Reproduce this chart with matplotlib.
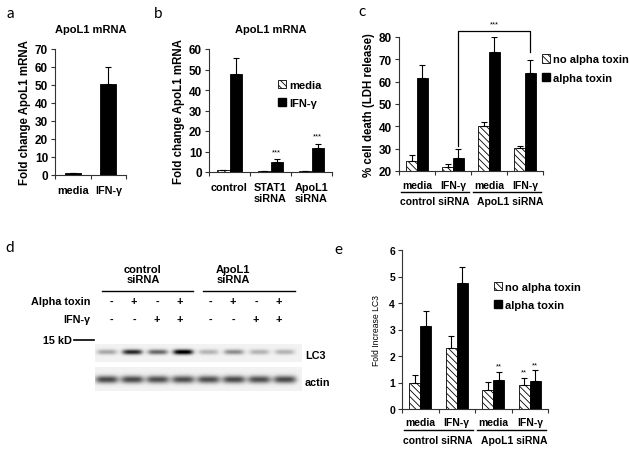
import numpy as np
import matplotlib
matplotlib.use('Agg')
import matplotlib.pyplot as plt
from matplotlib.patches import Patch

plt.rcParams['font.family'] = ['Liberation Sans', 'DejaVu Sans']
plt.rcParams['font.weight'] = 'bold'
plt.rcParams['axes.labelweight'] = 'bold'
plt.rcParams['hatch.linewidth'] = 0.6

# %% data
# a
a_groups = ['media', 'IFN-γ']
a_vals = [1.0, 50.3]
a_err = [0.3, 9.8]

# b
b_groups = ['control', 'STAT1\nsiRNA', 'ApoL1\nsiRNA']
b_media = [1.0, 0.5, 0.3]
b_media_err = [0.2, 0.15, 0.1]
b_ifn = [48.0, 5.0, 11.6]
b_ifn_err = [7.5, 1.3, 2.2]
b_stars = ['', '***', '***']

# c
c_groups = ['media', 'IFN-γ', 'media', 'IFN-γ']
c_sirna = ['control siRNA', 'ApoL1 siRNA']
c_no = [24.5, 22.0, 40.0, 30.5]
c_no_err = [2.5, 1.3, 2.0, 0.7]
c_tox = [61.5, 26.0, 73.5, 64.0]
c_tox_err = [6.0, 4.0, 6.3, 5.7]

# d
d_sirna = ['control\nsiRNA', 'ApoL1\nsiRNA']
d_tox = ['-', '+', '-', '+', '-', '+', '-', '+']
d_ifn = ['-', '-', '+', '+', '-', '-', '+', '+']
d_lc3 = [0.3, 0.8, 0.55, 1.0, 0.25, 0.4, 0.25, 0.25]
d_actin = [0.66, 0.66, 0.64, 0.64, 0.64, 0.66, 0.64, 0.66]

# e
e_groups = ['media', 'IFN-γ', 'media', 'IFN-γ']
e_no = [1.0, 2.3, 0.73, 0.9]
e_no_err = [0.3, 0.45, 0.3, 0.27]
e_tox = [3.15, 4.75, 1.1, 1.05]
e_tox_err = [0.55, 0.6, 0.3, 0.42]
e_no_stars = ['', '', '', '**']
e_tox_stars = ['', '', '**', '**']

HATCH = '\\\\\\\\\\'

fig = plt.figure(figsize=(6.29, 4.52), dpi=100)
ov = fig.add_axes([0, 0, 1, 1])
ov.set_xlim(0, 629)
ov.set_ylim(452, 0)
ov.axis('off')


def style(ax, n, ylo, yhi, step, ysize=8.5):
    ax.set_xlim(-0.5, n - 0.5)
    ax.set_ylim(ylo, yhi)
    ax.set_yticks(np.arange(ylo, yhi + 0.1, step))
    for s in ['top', 'right']:
        ax.spines[s].set_visible(False)
    for s in ['left', 'bottom']:
        ax.spines[s].set_linewidth(0.8)
        ax.spines[s].set_color('#333333')
    ax.set_xticks(np.arange(n + 1) - 0.5)
    ax.set_xticklabels([])
    ax.tick_params(axis='x', length=3, width=0.8, color='#333333')
    ax.tick_params(axis='y', length=3, width=0.8, labelsize=ysize, pad=2, color='#333333')
    ax.patch.set_alpha(0)


def errs(ax, x, v, e):
    ax.errorbar(x, v, yerr=[np.zeros(len(e)), e], fmt='none', ecolor='k',
                elinewidth=0.8, capsize=2.5, capthick=0.8)


def pair_bars(ax, a, ae, b, be, w=0.3):
    x = np.arange(len(a))
    ax.bar(x - w / 2, a, w, color='white', edgecolor='k', hatch=HATCH, linewidth=0.6)
    ax.bar(x + w / 2, b, w, color='black', edgecolor='k', linewidth=0.6)
    errs(ax, x - w / 2, a, ae)
    errs(ax, x + w / 2, b, be)
    return x, w


def legend(ax, labels, anchor):
    h = [Patch(facecolor='white', edgecolor='k', hatch=HATCH, linewidth=0.6),
         Patch(facecolor='black', edgecolor='k')]
    ax.legend(h, labels, loc='upper left', bbox_to_anchor=anchor, frameon=False,
              handlelength=0.75, handleheight=0.75, handletextpad=0.25,
              labelspacing=0.75, fontsize=8, borderaxespad=0, borderpad=0)


# %% a
ax = fig.add_axes([55 / 629, 1 - 176 / 452, 71 / 629, 126 / 452])
style(ax, 2, 0, 70, 10)
ax.bar(np.arange(2), a_vals, 0.45, color='black', edgecolor='k', linewidth=0.6)
errs(ax, np.arange(2), a_vals, a_err)
for i, g in enumerate(a_groups):
    ax.text(i, -0.12, g, transform=ax.get_xaxis_transform(), ha='center', va='center', fontsize=7.8)
ax.set_ylabel('Fold change ApoL1 mRNA', fontsize=8.3, labelpad=3)
ax.set_title('ApoL1 mRNA', fontsize=8, pad=12, fontweight='bold')

# %% b
ax = fig.add_axes([209 / 629, 1 - 173 / 452, 123 / 629, 123 / 452])
style(ax, 3, 0, 60, 10)
x, w = pair_bars(ax, b_media, b_media_err, b_ifn, b_ifn_err, w=0.31)
for i, s in enumerate(b_stars):
    if s:
        ax.text(x[i] + w / 2, b_ifn[i] + b_ifn_err[i] + 2, s, ha='center', va='bottom',
                fontsize=5.5, fontweight='normal')
for i, g in enumerate(b_groups):
    ax.text(i, -0.08, g, transform=ax.get_xaxis_transform(), ha='center', va='top',
            fontsize=7.8, linespacing=1.1)
ax.set_ylabel('Fold change ApoL1 mRNA', fontsize=8.3, labelpad=3)
ax.set_title('ApoL1 mRNA', fontsize=8, pad=12, fontweight='bold')
legend(ax, ['media', 'IFN-γ'], (0.56, 0.75))

# %% c
ax = fig.add_axes([399 / 629, 1 - 172 / 452, 144 / 629, 134 / 452])
style(ax, 4, 20, 80, 10)
x, w = pair_bars(ax, c_no, c_no_err, c_tox, c_tox_err)
top = 82.7
l0 = c_tox[1] + c_tox_err[1] + 1.2
r0 = c_tox[3] + c_tox_err[3] + 3.5
ax.plot([x[1] + w / 2, x[1] + w / 2, x[3] + w / 2, x[3] + w / 2], [l0, top, top, r0],
        color='k', lw=0.9, clip_on=False)
ax.text((x[1] + x[3]) / 2 + w / 2, top + 1.5, '***', ha='center', va='bottom',
        fontsize=5.5, fontweight='normal')
tr = ax.get_xaxis_transform()
for i, g in enumerate(c_groups):
    ax.text(i, -0.105, g, transform=tr, ha='center', va='center', fontsize=7.5)
for k, s in enumerate(c_sirna):
    ax.plot([2 * k - 0.45, 2 * k + 1.45], [-0.16, -0.16], transform=tr, color='k', lw=1, clip_on=False)
    ax.text(2 * k + 0.48 + 0.1 * k, -0.225, s, transform=tr, ha='center', va='center', fontsize=7.5)
ax.set_ylabel('% cell death (LDH release)', fontsize=8.3, labelpad=3)
legend(ax, ['no alpha toxin', 'alpha toxin'], (0.99, 0.87))

# %% d
for k, s in enumerate(d_sirna):
    ov.text(143 + 90 * k, 275, s, ha='center', va='center', fontsize=8, linespacing=1.1)
    ov.plot([102 + 101 * k, 193 + 102 * k], [292, 292], color='k', lw=1)
sign_x = [111 + 23 * i + 7 * (i // 4) for i in range(8)]
ov.text(90, 302, 'Alpha toxin', ha='right', va='center', fontsize=7.8)
ov.text(90, 320, 'IFN-γ', ha='right', va='center', fontsize=7.8)
for i in range(8):
    ov.text(sign_x[i], 302, d_tox[i], ha='center', va='center', fontsize=7.8)
    ov.text(sign_x[i], 320, d_ifn[i], ha='center', va='center', fontsize=7.8)
ov.text(72, 341, '15 kD', ha='right', va='center', fontsize=7.8)
ov.plot([74, 94], [341, 341], color='k', lw=1.2)

lane_x = [107 + 25.4 * i for i in range(8)]


def blot(vals, y0, y1, yc, bw, bh, bg):
    xx = np.arange(95, 302) + 0.5
    yy = np.arange(y0, y1) + 0.5
    X, Y = np.meshgrid(xx, yy)
    img = np.full(X.shape, bg)
    for c, v in zip(lane_x, vals):
        img -= v * np.exp(-((X - c) / bw) ** 4 - ((Y - yc) / bh) ** 2)
    ov.imshow(np.clip(img, 0, 1), cmap='gray', vmin=0, vmax=1, extent=(95, 302, y1, y0),
              aspect='auto', interpolation='bilinear')


blot(d_lc3, 345, 363, 353, 10, 2.6, 0.95)
blot(d_actin, 368, 392, 380.5, 11.5, 3.8, 0.95)
ov.set_xlim(0, 629)
ov.set_ylim(452, 0)
ov.text(305, 356, 'LC3', ha='left', va='center', fontsize=7.8)
ov.text(305, 383, 'actin', ha='left', va='center', fontsize=7.8)

# %% e
ax = fig.add_axes([402 / 629, 1 - 410 / 452, 146 / 629, 159 / 452])
style(ax, 4, 0, 6, 1, ysize=7.5)
x, w = pair_bars(ax, e_no, e_no_err, e_tox, e_tox_err)
for i in range(4):
    if e_no_stars[i]:
        ax.text(x[i] - w / 2, e_no[i] + e_no_err[i] + 0.08, e_no_stars[i], ha='center',
                va='bottom', fontsize=5.5, fontweight='normal')
    if e_tox_stars[i]:
        ax.text(x[i] + w / 2, e_tox[i] + e_tox_err[i] + 0.08, e_tox_stars[i], ha='center',
                va='bottom', fontsize=5.5, fontweight='normal')
tr = ax.get_xaxis_transform()
for i, g in enumerate(e_groups):
    ax.text(i, -0.082, g, transform=tr, ha='center', va='center', fontsize=7.5)
for k, s in enumerate(c_sirna):
    ax.plot([2 * k - 0.45, 2 * k + 1.45], [-0.135, -0.135], transform=tr, color='k', lw=1, clip_on=False)
    ax.text(2 * k + 0.48 + 0.1 * k, -0.195, s, transform=tr, ha='center', va='center', fontsize=7.5)
ax.set_ylabel('Fold Increase LC3', fontsize=6.2, fontweight='normal', labelpad=6)
legend(ax, ['no alpha toxin', 'alpha toxin'], (0.63, 0.8))

# panel letters
for lab, px, py in [('a', 10, 14), ('b', 158, 14), ('c', 362, 12), ('d', 10, 248), ('e', 338, 250)]:
    ov.text(px, py, lab, ha='center', va='center', fontsize=11, fontweight='normal',
            family='Lato')

fig.savefig('out.png', dpi=100)
